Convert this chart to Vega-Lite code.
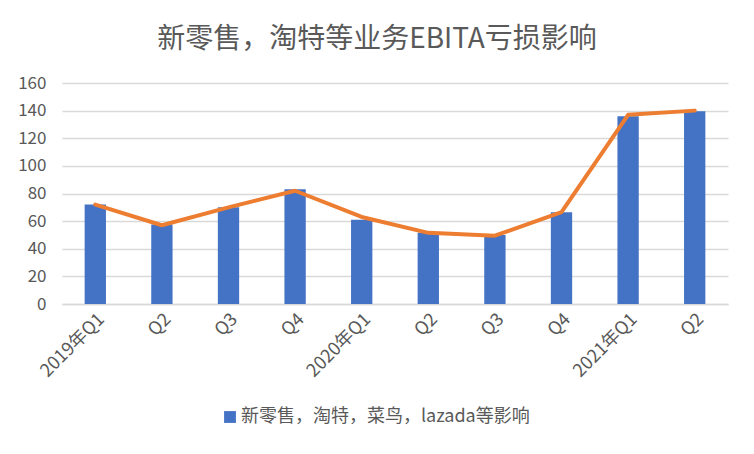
{
  "$schema": "https://vega.github.io/schema/vega-lite/v6.json",
  "width": 666,
  "height": 221,
  "autosize": {"type": "none"},
  "padding": {"left": 62, "top": 83, "right": 26, "bottom": 150},
  "background": "white",
  "title": {
    "text": "新零售，淘特等业务EBITA亏损影响",
    "anchor": "middle",
    "dx": -18,
    "offset": 20,
    "font": "Noto Sans CJK SC",
    "fontSize": 28,
    "fontWeight": "normal",
    "color": "#595959"
  },
  "data": {
    "values": [
      {"period": "2019年Q1", "bar": 72, "line": 72},
      {"period": "2019年Q2", "bar": 57.5, "line": 57},
      {"period": "2019年Q3", "bar": 70, "line": 70},
      {"period": "2019年Q4", "bar": 83, "line": 82},
      {"period": "2020年Q1", "bar": 61, "line": 63},
      {"period": "2020年Q2", "bar": 51.5, "line": 51.5},
      {"period": "2020年Q3", "bar": 50, "line": 49.5},
      {"period": "2020年Q4", "bar": 66.5, "line": 66.5},
      {"period": "2021年Q1", "bar": 136, "line": 137},
      {"period": "2021年Q2", "bar": 139.5, "line": 140}
    ]
  },
  "encoding": {
    "x": {
      "field": "period",
      "type": "nominal",
      "sort": null,
      "scale": {"paddingInner": 0, "paddingOuter": 0},
      "axis": {
        "title": null,
        "labelAngle": -45,
        "labelExpr": "indexof(datum.value,'Q1')>=0 ? datum.value : slice(datum.value,-2)",
        "labelFont": "Noto Sans CJK SC",
        "labelFontSize": 18,
        "labelColor": "#595959",
        "labelPadding": 6,
        "labelOverlap": false,
        "ticks": false,
        "domainColor": "#d9d9d9",
        "domainWidth": 1.5
      }
    }
  },
  "layer": [
    {
      "mark": {"type": "bar", "width": {"band": 0.32}},
      "encoding": {
        "y": {
          "field": "bar",
          "type": "quantitative",
          "scale": {"domain": [0, 160]},
          "axis": {
            "title": null,
            "values": [0, 20, 40, 60, 80, 100, 120, 140, 160]
          }
        },
        "color": {
          "datum": "新零售，淘特，菜鸟，lazada等影响",
          "type": "nominal",
          "scale": {"range": ["#4472C4"]},
          "legend": {
            "title": null,
            "orient": "none",
            "legendX": 159,
            "legendY": 325,
            "symbolType": "square",
            "symbolSize": 140,
            "symbolStrokeWidth": 0,
            "labelFont": "Noto Sans CJK SC",
            "labelFontSize": 18,
            "labelLimit": 0,
            "labelColor": "#595959",
            "labelOffset": 2
          }
        }
      }
    },
    {
      "mark": {"type": "line", "color": "#ED7D31", "strokeWidth": 4, "strokeCap": "round", "strokeJoin": "round"},
      "encoding": {
        "y": {
          "field": "line",
          "type": "quantitative",
          "scale": {"domain": [0, 160]},
          "axis": {
            "title": null,
            "values": [0, 20, 40, 60, 80, 100, 120, 140, 160]
          }
        }
      }
    }
  ],
  "config": {
    "view": {"stroke": null},
    "axisY": {
      "labelOverlap": false,
      "labelFont": "Noto Sans CJK SC",
      "labelFontSize": 17,
      "labelColor": "#595959",
      "labelPadding": 16,
      "ticks": false,
      "domain": false,
      "gridColor": "#d9d9d9",
      "gridWidth": 1.5
    }
  }
}
